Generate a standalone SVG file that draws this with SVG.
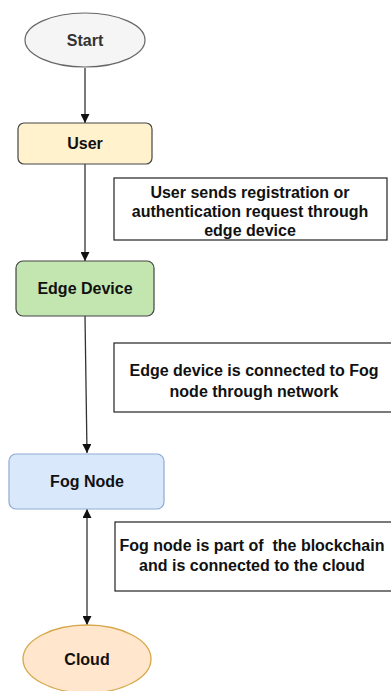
<svg xmlns="http://www.w3.org/2000/svg" width="391" height="691" viewBox="0 0 391 691">
<style>
text{font-family:"Liberation Sans",Arial,sans-serif;font-weight:bold;font-size:16px;fill:#111;text-anchor:middle}
.c{stroke:#333;stroke-width:1.3;fill:none}
.note{fill:#fff;stroke:#222;stroke-width:1.2}
</style>
<defs>
<marker id="ah" viewBox="0 0 10 10" refX="10" refY="5" markerWidth="9" markerHeight="9" markerUnits="userSpaceOnUse" orient="auto-start-reverse">
<path d="M0,0 L10,5 L0,10 Z" fill="#111"/>
</marker>
</defs>
<rect width="391" height="691" fill="#fff"/>
<g id="connectors">
<line class="c" x1="85" y1="68" x2="85" y2="123" marker-end="url(#ah)"/>
<line class="c" x1="85" y1="164" x2="85" y2="261" marker-end="url(#ah)"/>
<line class="c" x1="85" y1="316" x2="87" y2="453" marker-end="url(#ah)"/>
<line class="c" x1="87" y1="509" x2="87" y2="625" marker-start="url(#ah)" marker-end="url(#ah)"/>
</g>
<g id="start">
<ellipse cx="85" cy="40" rx="60" ry="27" fill="#f5f5f5" stroke="#666" stroke-width="1.2"/>
<text x="85" y="46" style="fill:#333">Start</text>
</g>
<g id="user">
<rect x="18" y="123" width="134" height="41" rx="6" fill="#fff2cc" stroke="#444" stroke-width="1.2"/>
<text x="85" y="149">User</text>
</g>
<g id="note1">
<rect class="note" x="114" y="178" width="273" height="62"/>
<text x="250" y="198">User sends registration or</text>
<text x="250" y="217">authentication request through</text>
<text x="250" y="236">edge device</text>
</g>
<g id="edge-device">
<rect x="16" y="261" width="138" height="55" rx="7" fill="#c3e5b0" stroke="#444" stroke-width="1.2"/>
<text x="85" y="294">Edge Device</text>
</g>
<g id="note2">
<rect class="note" x="114" y="343" width="290" height="69"/>
<text x="254" y="376">Edge device is connected to Fog</text>
<text x="254" y="397">node through network</text>
</g>
<g id="fog-node">
<rect x="9" y="454" width="155" height="55" rx="7" fill="#dae8fc" stroke="#8fa9d4" stroke-width="1.2"/>
<text x="87" y="487">Fog Node</text>
</g>
<g id="note3">
<rect class="note" x="115" y="522" width="290" height="69"/>
<text x="252" y="551" xml:space="preserve">Fog node is part of  the blockchain</text>
<text x="252" y="571">and is connected to the cloud</text>
</g>
<g id="cloud">
<ellipse cx="87" cy="659" rx="64" ry="34" fill="#ffe6cc" stroke="#d6a84a" stroke-width="1.3"/>
<text x="87" y="665">Cloud</text>
</g>
</svg>
